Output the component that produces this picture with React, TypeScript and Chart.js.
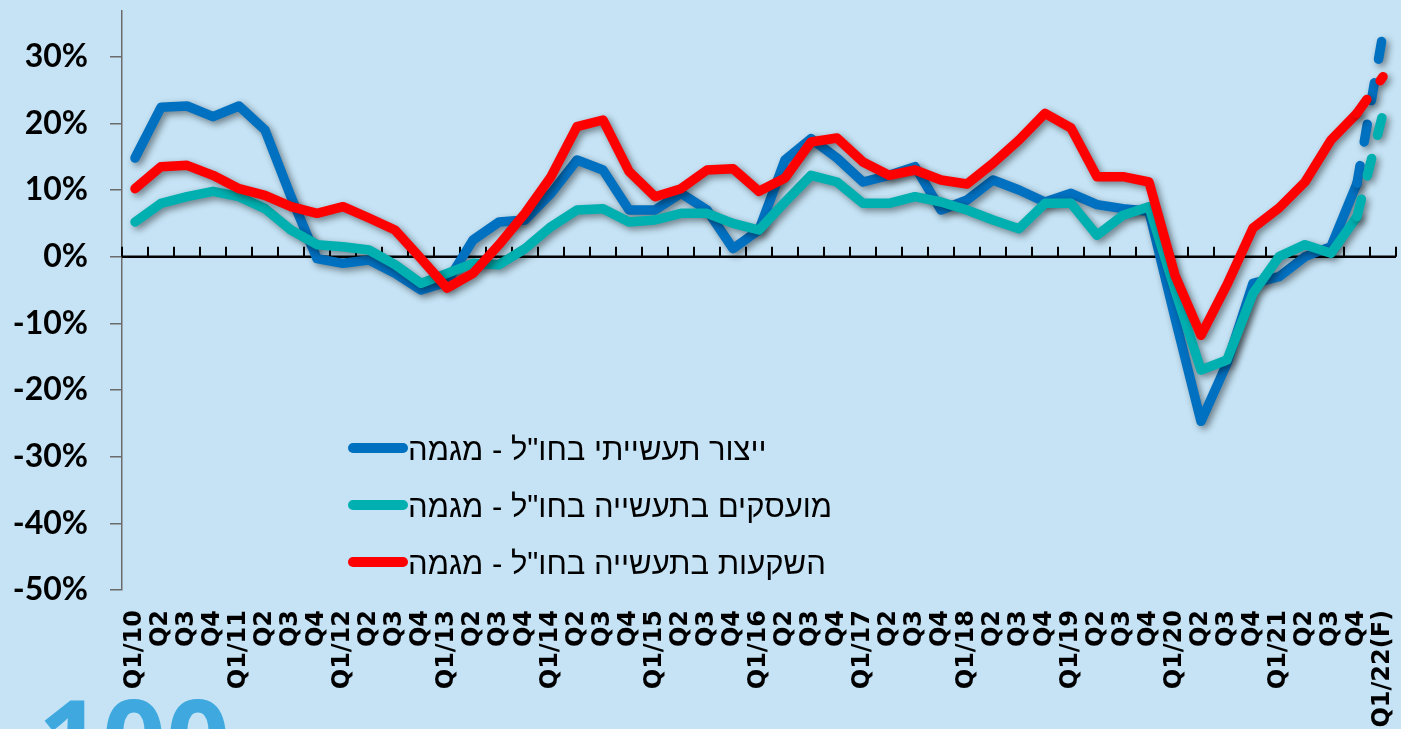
import React, { useEffect, useRef } from 'react';
import { Chart, registerables } from 'chart.js';

Chart.register(...registerables);

const categories: string[] = [
  'Q1/10', 'Q2', 'Q3', 'Q4',
  'Q1/11', 'Q2', 'Q3', 'Q4',
  'Q1/12', 'Q2', 'Q3', 'Q4',
  'Q1/13', 'Q2', 'Q3', 'Q4',
  'Q1/14', 'Q2', 'Q3', 'Q4',
  'Q1/15', 'Q2', 'Q3', 'Q4',
  'Q1/16', 'Q2', 'Q3', 'Q4',
  'Q1/17', 'Q2', 'Q3', 'Q4',
  'Q1/18', 'Q2', 'Q3', 'Q4',
  'Q1/19', 'Q2', 'Q3', 'Q4',
  'Q1/20', 'Q2', 'Q3', 'Q4',
  'Q1/21', 'Q2', 'Q3', 'Q4',
  'Q1/22(F)',
];

const productionLabel = 'ייצור תעשייתי בחו"ל - מגמה';
const employmentLabel = 'מועסקים בתעשייה בחו"ל - מגמה';
const investmentLabel = 'השקעות בתעשייה בחו"ל - מגמה';

const productionValues: number[] = [
  14.8, 22.4, 22.6, 21.0, 22.6, 19.0, 9.0, -0.3,
  -1.0, -0.5, -2.5, -5.0, -3.8, 2.5, 5.2, 5.5,
  9.5, 14.5, 13.0, 7.0, 7.0, 9.5, 7.0, 1.2,
  4.0, 14.5, 17.7, 14.8, 11.2, 12.2, 13.5, 7.0,
  8.5, 11.5, 10.0, 8.2, 9.5, 7.8, 7.2, 6.8,
  -9.2, -24.7, -16.0, -4.0, -3.0, 0.0, 1.5, 11.0,
  33.5,
];

const employmentValues: number[] = [
  5.2, 8.0, 9.0, 9.8, 9.0, 7.2, 4.0, 1.8,
  1.5, 1.0, -1.2, -4.0, -2.5, -1.0, -1.2, 1.2,
  4.5, 7.0, 7.2, 5.2, 5.5, 6.5, 6.5, 5.0,
  4.0, 8.2, 12.2, 11.2, 8.0, 8.0, 9.0, 8.2,
  7.0, 5.5, 4.2, 8.0, 8.0, 3.2, 6.2, 7.5,
  -5.0, -17.0, -15.5, -5.5, 0.0, 1.8, 0.5, 6.0,
  21.5,
];

const investmentValues: number[] = [
  10.2, 13.5, 13.7, 12.2, 10.2, 9.2, 7.5, 6.5,
  7.5, 5.8, 4.0, -0.3, -4.7, -2.5, 1.8, 6.5,
  12.0, 19.5, 20.5, 12.8, 9.0, 10.2, 13.0, 13.2,
  9.8, 11.8, 17.2, 17.8, 14.2, 12.2, 13.0, 11.5,
  10.9, 14.0, 17.5, 21.5, 19.3, 12.0, 12.0, 11.2,
  -2.8, -11.8, -4.2, 4.3, 7.3, 11.2, 17.5, 21.5,
  27.0,
];

const yTickValues: number[] = [-50, -40, -30, -20, -10, 0, 10, 20, 30];

const BG = '#C5E3F5';
const BLUE = '#0070C0';
const TEAL = '#00B0B0';
const RED = '#FF0000';

const forecastIndex = categories.length - 1;

const shadowPlugin = {
  id: 'lineShadow',
  beforeDatasetDraw(chart: any) {
    const ctx = chart.ctx;
    ctx.save();
    ctx.shadowColor = 'rgba(0,0,0,0.45)';
    ctx.shadowBlur = 7;
    ctx.shadowOffsetX = 3;
    ctx.shadowOffsetY = 3;
  },
  afterDatasetDraw(chart: any) {
    chart.ctx.restore();
  },
};

const zeroAxisPlugin = {
  id: 'zeroAxis',
  beforeDatasetsDraw(chart: any) {
    const ctx = chart.ctx;
    const xs = chart.scales.x;
    const ys = chart.scales.y;
    const y0 = ys.getPixelForValue(0);
    const n = categories.length;
    const step = (xs.right - xs.left) / n;
    ctx.save();
    ctx.strokeStyle = '#000';
    ctx.lineWidth = 2.5;
    ctx.beginPath();
    ctx.moveTo(xs.left, y0);
    ctx.lineTo(xs.right, y0);
    ctx.stroke();
    ctx.lineWidth = 2;
    ctx.beginPath();
    for (let k = 0; k <= n; k++) {
      const x = Math.round(xs.left + k * step);
      ctx.moveTo(x, y0);
      ctx.lineTo(x, y0 - 10);
    }
    ctx.stroke();
    ctx.restore();
  },
};

const legendPlugin = {
  id: 'customLegend',
  afterDraw(chart: any) {
    const ctx = chart.ctx;
    const order = [0, 1, 2];
    ctx.save();
    order.forEach((di, row) => {
      const ds = chart.data.datasets[di];
      const cy = 448 + row * 57;
      ctx.strokeStyle = ds.borderColor;
      ctx.lineWidth = 10;
      ctx.lineCap = 'round';
      ctx.beginPath();
      ctx.moveTo(353, cy);
      ctx.lineTo(403, cy);
      ctx.stroke();
      ctx.fillStyle = '#000';
      ctx.font = '31px "Liberation Sans", Arial, sans-serif';
      ctx.direction = 'rtl';
      ctx.textAlign = 'left';
      ctx.textBaseline = 'alphabetic';
      ctx.fillText(ds.label, 408, cy + 12);
    });
    // logo fragment
    ctx.direction = 'ltr';
    ctx.fillStyle = '#3FA9DF';
    ctx.font = '700 112px "Open Sans", sans-serif';
    ctx.textAlign = 'left';
    ctx.fillText('100', 38, 780);
    ctx.restore();
  },
};

const noPad = (s: any) => {
  s.paddingTop = 0;
  s.paddingBottom = 0;
  s.paddingLeft = 0;
  s.paddingRight = 0;
};

export default function App() {
  const canvasRef = useRef<HTMLCanvasElement | null>(null);

  useEffect(() => {
    if (!canvasRef.current) return;
    const mk = (label: string, data: number[], color: string, order: number, pattern: number[]) => ({
      label,
      data,
      borderColor: color,
      backgroundColor: color,
      borderWidth: 9.5,
      pointRadius: 0,
      pointHoverRadius: 0,
      tension: 0,
      fill: false,
      borderCapStyle: 'round',
      borderJoinStyle: 'round',
      clip: false,
      order,
      segment: {
        borderDash: (c: any) => (c.p1DataIndex === forecastIndex ? pattern : undefined),
      },
    });
    const chart = new Chart(canvasRef.current, {
      type: 'line',
      data: {
        labels: categories,
        datasets: [
          mk(productionLabel, productionValues, BLUE, 3, [18, 24]),
          mk(employmentLabel, employmentValues, TEAL, 2, [18, 24]),
          mk(investmentLabel, investmentValues, RED, 1, [17, 23]),
        ] as any,
      },
      options: {
        responsive: false,
        animation: false,
        layout: { padding: { left: 0, right: 5, top: 11, bottom: 0 } },
        plugins: {
          legend: { display: false },
          tooltip: { enabled: false },
          title: { display: false },
        },
        scales: {
          x: {
            type: 'category',
            offset: true,
            grid: { display: false, drawTicks: false },
            border: { display: false },
            ticks: {
              autoSkip: false,
              maxRotation: 90,
              minRotation: 90,
              padding: 20,
              color: '#000',
              font: { family: '"DejaVu Sans", sans-serif', size: 24, weight: 'bold' },
            },
            afterFit: (s: any) => {
              s.height = 139;
              noPad(s);
            },
          },
          y: {
            min: -50,
            max: 36.85,
            afterBuildTicks: (s: any) => {
              s.ticks = yTickValues.map((v) => ({ value: v }));
            },
            grid: {
              drawOnChartArea: false,
              drawTicks: true,
              tickLength: 12,
              color: '#6b6b6b',
              lineWidth: 1.5,
            },
            border: { display: true, color: '#6b6b6b', width: 1.5 },
            ticks: {
              padding: 22,
              color: '#000',
              font: { family: 'Lato, sans-serif', size: 32, weight: 'bold' },
              callback: (v: any) => `${v}%`,
            },
            afterFit: (s: any) => {
              s.width = 122;
              noPad(s);
            },
          },
        },
      } as any,
      plugins: [shadowPlugin, zeroAxisPlugin, legendPlugin],
    });
    return () => chart.destroy();
  }, []);

  return (
    <div
      style={{
        position: 'fixed',
        left: 0,
        top: 0,
        width: 1401,
        height: 729,
        background: BG,
        overflow: 'hidden',
      }}
    >
      <canvas ref={canvasRef} width={1401} height={729} style={{ display: 'block' }} />
    </div>
  );
}
